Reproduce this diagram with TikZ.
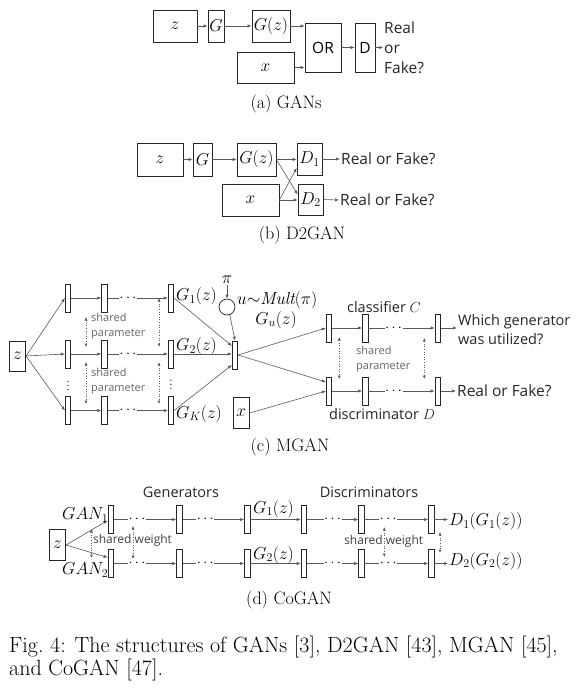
\documentclass[tikz,border=0pt]{standalone}
\usepackage{fontspec}
\newfontfamily\sansf{Open Sans}
\usetikzlibrary{arrows.meta}
\begin{document}
\begin{tikzpicture}[x=1pt,y=-1pt,
  bx/.style={draw=black!85, line width=0.7pt, inner sep=0pt, font=\fontsize{18.5}{21}\selectfont},
  bar/.style={draw=black!85, line width=0.7pt, inner sep=0pt, minimum width=5.5pt, minimum height=28pt},
  arr/.style={draw=black!65, line width=0.6pt, -{Latex[length=4pt,width=3.2pt]}},
  sarr/.style={draw=black!65, line width=0.6pt, dotted, {Latex[length=3.5pt,width=3pt]}-{Latex[length=3.5pt,width=3pt]}},
  dots/.style={fill=white, inner sep=0.6pt, font=\fontsize{15}{16}\selectfont},
  stxt/.style={font=\sansf\fontsize{15.5}{20}\selectfont, text=black!85, inner sep=1pt},
  ltxt/.style={font=\sansf\fontsize{14.5}{19}\selectfont, text=black!85, inner sep=1pt},
  gtxt/.style={font=\sansf\fontsize{11}{15}\selectfont, text=black!60, align=left, inner sep=0pt},
  wtxt/.style={font=\sansf\fontsize{12}{15}\selectfont, text=black!75, inner sep=0pt},
  mtxt/.style={font=\fontsize{17.5}{20}\selectfont, inner sep=1pt},
  vdt/.style={font=\fontsize{15}{16}\selectfont, inner sep=0pt},
  captxt/.style={font=\fontsize{18}{21}\selectfont, inner sep=0pt}
]
\fill[white] (0,0) rectangle (576,688);
\useasboundingbox (0,0) rectangle (576,688);

% ---------------- (a) GANs ----------------
\node[bx, minimum width=44pt, minimum height=32pt] (az) at (175,26) {$z$};
\node[bx, minimum width=16pt, minimum height=32pt] (aG) at (216,26) {$G$};
\node[bx, minimum width=38pt, minimum height=32pt] (aGz) at (271,26) {$G(z)$};
\node[bx, minimum width=57pt, minimum height=31pt] (ax) at (265.5,67.5) {$x$};
\node[bx, minimum width=36pt, minimum height=49pt, font=\sansf\fontsize{15.5}{18}\selectfont] (aOR) at (323,47.5) {OR};
\node[bx, minimum width=20pt, minimum height=49pt, font=\sansf\fontsize{15.5}{18}\selectfont] (aD) at (365,47.5) {D};
\node[stxt, anchor=west, align=left] (aout) at (383,47.5) {Real\\or\\Fake?};
\draw[arr] (az) -- (aG);
\draw[arr] (aG) -- (aGz);
\draw[arr] (aGz.east) -- (aGz.east -| aOR.west);
\draw[arr] (ax.east) -- (ax.east -| aOR.west);
\draw[arr] (aOR) -- (aD);
\draw[arr] (aD.east) -- (aout.west);
\node[captxt] (capa) at (286,104) {(a) GANs};

% ---------------- (b) D2GAN ----------------
\node[bx, minimum width=46pt, minimum height=33pt] (bz) at (160,159.5) {$z$};
\node[bx, minimum width=19pt, minimum height=33pt] (bG) at (202.5,159.5) {$G$};
\node[bx, minimum width=39pt, minimum height=33pt] (bGz) at (256.5,159.5) {$G(z)$};
\node[bx, minimum width=25pt, minimum height=32pt] (bD1) at (309.5,159) {$D_1$};
\node[bx, minimum width=57pt, minimum height=32pt] (bx) at (250.5,200) {$x$};
\node[bx, minimum width=25pt, minimum height=31pt] (bD2) at (310.5,199.5) {$D_2$};
\node[stxt, anchor=west] (bo1) at (340,159) {Real or Fake?};
\node[stxt, anchor=west] (bo2) at (339,200) {Real or Fake?};
\draw[arr] (bz) -- (bG);
\draw[arr] (bG) -- (bGz);
\draw[arr] (bGz.east) -- (bGz.east -| bD1.west);
\draw[arr] (bGz.east) -- ([yshift=5pt]bD2.west);
\draw[arr] (bx.east) -- ([yshift=-9pt]bD1.west);
\draw[arr] (bx.east) -- (bx.east -| bD2.west);
\draw[arr] (bD1.east) -- (bo1.west);
\draw[arr] (bD2.east) -- (bo2.west);
\node[captxt] (capb) at (302,235) {(b) D2GAN};

% ---------------- (c) MGAN ----------------
\node[bx, minimum width=16.5pt, minimum height=30pt] (cz) at (17.5,356) {$z$};
\foreach \r/\y in {1/298,2/354,3/410.5}{
  \node[bar] (c\r1) at (68,\y) {};
  \node[bar] (c\r2) at (104.5,\y) {};
  \node[bar] (c\r3) at (171,\y) {};
  \draw[arr] (cz.east) -- (c\r1.west);
  \draw[arr] (c\r1) -- (c\r2);
  \draw[arr] (c\r2) -- (c\r3) node[dots, pos=0.34] {$\cdots$};
}
\node[vdt] (cvd1) at (68,383) {$\vdots$};
\node[vdt] (cvd2) at (171,382) {$\vdots$};
\node[gtxt, anchor=west] (csh1) at (91,326) {shared\\parameter};
\node[gtxt, anchor=west] (csh2) at (91,381) {shared\\parameter};
\coordinate (cs1a) at (86,317); \coordinate (cs1b) at (86,347);
\coordinate (cs2a) at (159,298); \coordinate (cs2b) at (159,347);
\coordinate (cs3a) at (86,362); \coordinate (cs3b) at (86,404);
\coordinate (cs4a) at (159,362); \coordinate (cs4b) at (159,404);
\draw[sarr] (cs1a) -- (cs1b);
\draw[sarr] (cs2a) -- (cs2b);
\draw[sarr] (cs3a) -- (cs3b);
\draw[sarr] (cs4a) -- (cs4b);
\node[mtxt, anchor=west] (cg1) at (175,296.5) {$G_1(z)$};
\node[mtxt, anchor=west] (cg2) at (175,346.5) {$G_2(z)$};
\node[mtxt, anchor=west] (cgk) at (175,414) {$G_K(z)$};
\node[bar] (cm) at (235,355) {};
\draw[arr] (c13.east) -- ([yshift=9pt]cm.west);
\draw[arr] (c23.east) -- (c23.east -| cm.west);
\draw[arr] (c33.east) -- ([yshift=-10pt]cm.west);
\node[draw=black!85, line width=0.7pt, circle, minimum size=16pt, inner sep=0pt] (ccirc) at (227,307) {};
\node[mtxt] (cpi) at (227,280) {$\pi$};
\draw[arr] (cpi) -- (ccirc);
\draw[arr] (ccirc.-70) -- (cm.north);
\node[mtxt, anchor=west] (cmult) at (236,300) {$u{\sim}\mathit{Mult}(\pi)$};
\node[mtxt] (cgu) at (276,320) {$G_u(z)$};
\foreach \n/\x in {1/329,2/365.2,3/437.8}{
  \node[bar] (cc\n) at (\x,328) {};
  \node[bar] (cd\n) at (\x,391) {};
}
\draw[arr] (cm.east) -- (cc1.west);
\draw[arr] (cm.east) -- ([yshift=9pt]cd1.west);
\node[bx, minimum width=16pt, minimum height=30.5pt] (cx) at (241.3,413) {$x$};
\draw[arr] (cx.east) -- (cd1.west);
\draw[arr] (cc1) -- (cc2);
\draw[arr] (cc2) -- (cc3) node[dots, pos=0.38] {$\cdots$};
\draw[arr] (cd1) -- (cd2);
\draw[arr] (cd2) -- (cd3) node[dots, pos=0.38] {$\cdots$};
\node[ltxt, anchor=west, align=left] (cwhich) at (457,329.5) {Which generator\\was utilized?};
\draw[arr] (cc3.east) -- (cc3.east -| cwhich.west);
\node[stxt, anchor=west] (creal) at (456,391) {Real or Fake?};
\draw[arr] (cd3.east) -- (creal.west);
\node[ltxt] (cclass) at (384,307) {classifier $C$};
\node[ltxt] (cdisc) at (382,414) {discriminator $D$};
\node[gtxt, anchor=west] (csh3) at (356,359) {shared\\parameter};
\coordinate (cs5a) at (339.3,337); \coordinate (cs5b) at (339.3,379);
\coordinate (cs6a) at (424.3,338); \coordinate (cs6b) at (424.3,379);
\draw[sarr] (cs5a) -- (cs5b);
\draw[sarr] (cs6a) -- (cs6b);
\node[captxt] (capc) at (290,447) {(c) MGAN};

% ---------------- (d) CoGAN ----------------
\node[bx, minimum width=16.5pt, minimum height=31.5pt] (dz) at (57.5,545) {$z$};
\node[ltxt] (dgen) at (181,492.7) {Generators};
\node[ltxt] (ddis) at (369,492.7) {Discriminators};
\node[wtxt] (dsw1) at (132.5,540.5) {shared weight};
\node[wtxt] (dsw2) at (383.7,541.7) {shared weight};
\foreach \r/\y in {1/519.5,2/563.5}{
  \node[bar] (d\r1) at (110.7,\y) {};
  \node[bar] (d\r2) at (179.5,\y) {};
  \node[bar] (d\r3) at (247.2,\y) {};
  \node[bar] (d\r4) at (303.8,\y) {};
  \node[bar] (d\r5) at (361.3,\y) {};
  \node[bar] (d\r6) at (431.2,\y) {};
  \draw[arr] (d\r1) -- (d\r2) node[dots, pos=0.37] {$\cdots$};
  \draw[arr] (d\r2) -- (d\r3) node[dots, pos=0.37] {$\cdots$};
  \draw[arr] (d\r3) -- (d\r4);
  \draw[arr] (d\r4) -- (d\r5) node[dots, pos=0.5] {$\cdots$};
  \draw[arr] (d\r5) -- (d\r6) node[dots, pos=0.375] {$\cdots$};
}
\draw[arr] (dz.east) -- ([yshift=-1pt]d11.west);
\draw[arr] (dz.east) -- ([yshift=6pt]d21.west);
\node[mtxt, anchor=west] (dgan1) at (61,515) {$GAN_1$};
\node[mtxt, anchor=west] (dgan2) at (61,570) {$GAN_2$};
\node[mtxt, anchor=west] (dg1) at (252,509) {$G_1(z)$};
\node[mtxt, anchor=west] (dg2) at (252,555) {$G_2(z)$};
\node[mtxt, anchor=west] (dout1) at (448,521.5) {$D_1\bigl(G_1(z)\bigr)$};
\node[mtxt, anchor=west] (dout2) at (448,561) {$D_2\bigl(G_2(z)\bigr)$};
\draw[arr] (d16.east) -- (d16.east -| dout1.west);
\draw[arr] (d26.east) -- (d26.east -| dout2.west);
\coordinate (ds1a) at (91.5,529); \coordinate (ds1b) at (91.5,558);
\coordinate (ds2a) at (133,526); \coordinate (ds2b) at (133,559);
\coordinate (ds3a) at (384.3,527); \coordinate (ds3b) at (384.3,557);
\coordinate (ds4a) at (440,532); \coordinate (ds4b) at (440,553);
\draw[sarr] (ds1a) -- (ds1b);
\draw[sarr] (ds2a) -- (ds2b);
\draw[sarr] (ds3a) -- (ds3b);
\draw[sarr] (ds4a) -- (ds4b);
\node[captxt] (capd) at (289,600) {(d) CoGAN};

% ---------------- caption ----------------
\node[captxt, anchor=west, align=left, font=\fontsize{22}{22.5}\selectfont] (figcap) at (9,658.5) {Fig.~4: The structures of GANs [3], D2GAN [43], MGAN [45],\\and CoGAN [47].};
\end{tikzpicture}
\end{document}
